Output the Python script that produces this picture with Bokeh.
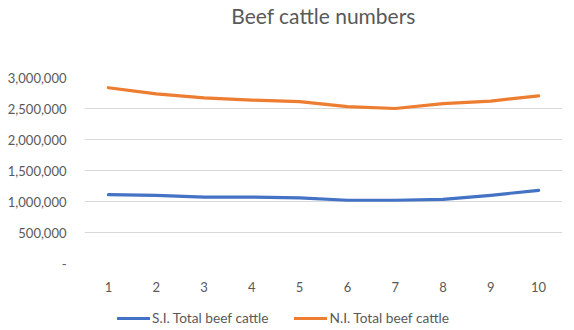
from bokeh.plotting import figure
from bokeh.layouts import column
from bokeh.models import FixedTicker, CustomJSTickFormatter, Legend, LegendItem, FactorRange, Range1d
from bokeh.embed import file_html
from bokeh.resources import INLINE

periods = ["1", "2", "3", "4", "5", "6", "7", "8", "9", "10"]
si_total = [1110000, 1100000, 1070000, 1070000, 1060000, 1020000, 1020000, 1035000, 1100000, 1180000]
ni_total = [2835000, 2735000, 2670000, 2635000, 2610000, 2530000, 2500000, 2580000, 2620000, 2705000]
y_ticks = [0, 500000, 1000000, 1500000, 2000000, 2500000, 3000000]
series_names = ["S.I. Total beef cattle", "N.I. Total beef cattle"]

FONT = "Lato"
TXT = "#595959"
BLUE = "#4472C4"
ORANGE = "#ED7D31"
W = 574

# --- title strip ---
tf = figure(width=W, height=44, output_backend="svg", toolbar_location=None,
            x_axis_location=None, y_axis_location=None,
            min_border_left=0, min_border_right=0, min_border_top=6, min_border_bottom=0)
tf.outline_line_color = None
tf.xgrid.grid_line_color = None
tf.ygrid.grid_line_color = None
tf.title.text = "Beef cattle numbers"
tf.title.align = "center"
tf.title.text_font = FONT
tf.title.text_font_size = "21px"
tf.title.text_font_style = "normal"
tf.title.text_color = TXT
tf.title.standoff = 0

# --- main chart ---
p = figure(width=W, height=250, x_range=FactorRange(*periods), y_range=Range1d(0, 3000000),
           output_backend="svg", toolbar_location=None,
           min_border_left=84, min_border_right=12, min_border_top=33, min_border_bottom=28)
p.outline_line_color = None

p.line(periods, si_total, line_color=BLUE, line_width=3.2, line_join="round", line_cap="round")
p.line(periods, ni_total, line_color=ORANGE, line_width=3.2, line_join="round", line_cap="round")

p.xgrid.grid_line_color = None
p.ygrid.grid_line_color = "#d9d9d9"
p.ygrid.grid_line_width = 1

p.yaxis.ticker = FixedTicker(ticks=y_ticks)
p.yaxis.formatter = CustomJSTickFormatter(code="return tick == 0 ? '-' : tick.toLocaleString('en-US');")
for ax in (p.xaxis[0], p.yaxis[0]):
    ax.axis_line_color = None
    ax.major_tick_line_color = None
    ax.minor_tick_line_color = None
    ax.major_label_text_font = FONT
    ax.major_label_text_font_size = "13px"
    ax.major_label_text_color = TXT
p.yaxis.major_label_standoff = 12
p.xaxis.major_label_standoff = 12

# --- legend strip (key lines reuse the data; they fall outside this strip's range) ---
lf = figure(width=W, height=36, x_range=Range1d(0, 1), y_range=Range1d(0, 1),
            output_backend="svg", toolbar_location=None,
            x_axis_location=None, y_axis_location=None,
            min_border_left=0, min_border_right=0, min_border_top=8, min_border_bottom=0)
lf.outline_line_color = None
lf.xgrid.grid_line_color = None
lf.ygrid.grid_line_color = None
idx = list(range(1, len(periods) + 1))
k1 = lf.line(x=idx, y=si_total, line_color=BLUE, line_width=3.2, line_cap="round")
k2 = lf.line(x=idx, y=ni_total, line_color=ORANGE, line_width=3.2, line_cap="round")
legend = Legend(items=[LegendItem(label=series_names[0], renderers=[k1]),
                       LegendItem(label=series_names[1], renderers=[k2])],
                orientation="horizontal", location=(33, 4),
                label_text_font=FONT, label_text_font_size="13.7px", label_text_color=TXT,
                glyph_width=33, glyph_height=14, label_standoff=2, spacing=26,
                border_line_color=None, background_fill_alpha=0, margin=0, padding=2)
lf.add_layout(legend, "center")

layout = column(tf, p, lf, spacing=0)
open("out.html", "w").write(file_html(layout, INLINE))
